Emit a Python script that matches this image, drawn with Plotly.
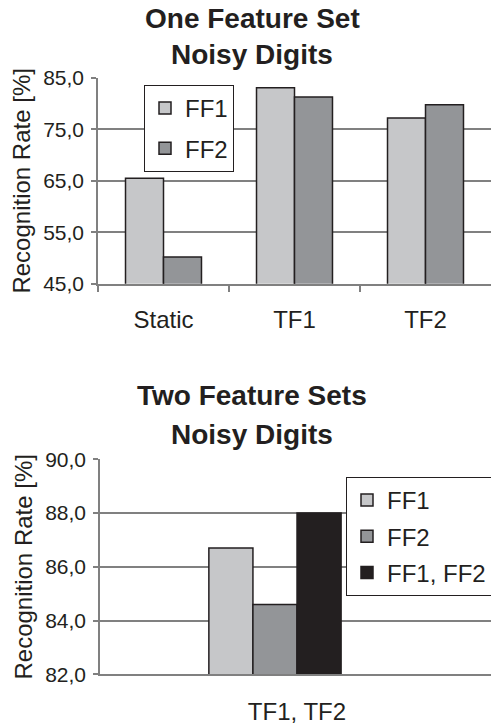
import plotly.graph_objects as go

# Recognition rates [%] for noisy digits
one_set_categories = ["Static", "TF1", "TF2"]
one_set_ff1 = [65.5, 83.1, 77.2]
one_set_ff2 = [50.2, 81.3, 79.8]

two_set_categories = ["TF1, TF2"]
two_set_ff1 = [86.7]
two_set_ff2 = [84.6]
two_set_ff12 = [88.0]

FONT = "Liberation Sans, Arial, sans-serif"
INK = "#231f20"
GRID = "#808080"
LIGHT = "#c6c7c9"
MID = "#939598"

fig = go.Figure()

bar_line = dict(color=INK, width=1.5)

# Upper chart: one feature set
fig.add_trace(go.Bar(x=one_set_categories, y=one_set_ff1, name="FF1",
                     marker=dict(color=LIGHT, line=bar_line),
                     xaxis="x", yaxis="y", legend="legend", legendgroup="a"))
fig.add_trace(go.Bar(x=one_set_categories, y=one_set_ff2, name="FF2",
                     marker=dict(color=MID, line=bar_line),
                     xaxis="x", yaxis="y", legend="legend", legendgroup="b"))

# Lower chart: two feature sets
fig.add_trace(go.Bar(x=two_set_categories, y=two_set_ff1, name="FF1",
                     marker=dict(color=LIGHT, line=bar_line),
                     xaxis="x2", yaxis="y2", legend="legend2", legendgroup="c"))
fig.add_trace(go.Bar(x=two_set_categories, y=two_set_ff2, name="FF2",
                     marker=dict(color=MID, line=bar_line),
                     xaxis="x2", yaxis="y2", legend="legend2", legendgroup="d"))
fig.add_trace(go.Bar(x=two_set_categories, y=two_set_ff12, name="FF1, FF2",
                     marker=dict(color=INK, line=bar_line),
                     xaxis="x2", yaxis="y2", legend="legend2", legendgroup="e"))

yaxis_common = dict(
    showline=True, linecolor=GRID, linewidth=1.5,
    showgrid=True, gridcolor=GRID, gridwidth=1.5,
    ticks="outside", ticklen=5, tickcolor=GRID, tickwidth=1.5,
    tickformat=".1f", tickfont=dict(size=21, color=INK, family=FONT),
    ticklabelstandoff=3, zeroline=False, automargin=False,
)
ytitle = dict(text="Recognition Rate [%]", font=dict(size=24, color=INK, family=FONT), standoff=6)

fig.update_layout(
    width=491, height=727,
    margin=dict(l=0, r=0, t=0, b=0, autoexpand=False),
    paper_bgcolor="white", plot_bgcolor="white",
    separators=", ",
    barmode="group", bargap=0.42, bargroupgap=0,
    font=dict(family=FONT, color=INK),
    xaxis=dict(
        domain=[98 / 491, 1], anchor="y", type="category",
        range=[-0.5, 2.5], automargin=False,
        showline=True, linecolor=GRID, linewidth=1.5,
        tickson="boundaries", ticks="outside", ticklen=7, tickcolor=GRID, tickwidth=1.5,
        tickfont=dict(size=24, color=INK, family=FONT), ticklabelstandoff=14,
        showgrid=False,
    ),
    yaxis=dict(domain=[0.6098, 0.8927], anchor="x", range=[45, 85], tick0=45, dtick=10,
               title=ytitle, **yaxis_common),
    xaxis2=dict(
        domain=[100 / 491, 1], anchor="y2", type="category",
        range=[-0.7675, 0.9475], automargin=False,
        showline=True, linecolor=GRID, linewidth=1.5,
        ticks="", tickfont=dict(size=24, color=INK, family=FONT),
        ticklabelstandoff=15, ticklabelshift=22,
        showgrid=False,
    ),
    yaxis2=dict(domain=[0.0725, 0.3682], anchor="x2", range=[82, 90], tick0=82, dtick=2,
                title=ytitle, **yaxis_common),
    legend=dict(
        x=144 / 491, y=(727 - 85) / 727, xanchor="left", yanchor="top",
        bgcolor="white", bordercolor=INK, borderwidth=1,
        font=dict(size=24, color=INK, family=FONT), tracegroupgap=6,
    ),
    legend2=dict(
        x=346 / 491, y=(727 - 477) / 727, xanchor="left", yanchor="top",
        bgcolor="white", bordercolor=INK, borderwidth=1,
        font=dict(size=24, color=INK, family=FONT), tracegroupgap=2,
    ),
    showlegend=True,
)

titles = [
    ("One Feature Set", 18), ("Noisy Digits", 54),
    ("Two Feature Sets", 395), ("Noisy Digits", 434),
]
for text, ypix in titles:
    fig.add_annotation(text=f"<b>{text}</b>", x=252 / 491, y=(727 - ypix) / 727,
                       xref="paper", yref="paper", xanchor="center", yanchor="middle",
                       showarrow=False, font=dict(size=28, color=INK, family=FONT))

fig.write_html("out.html")
